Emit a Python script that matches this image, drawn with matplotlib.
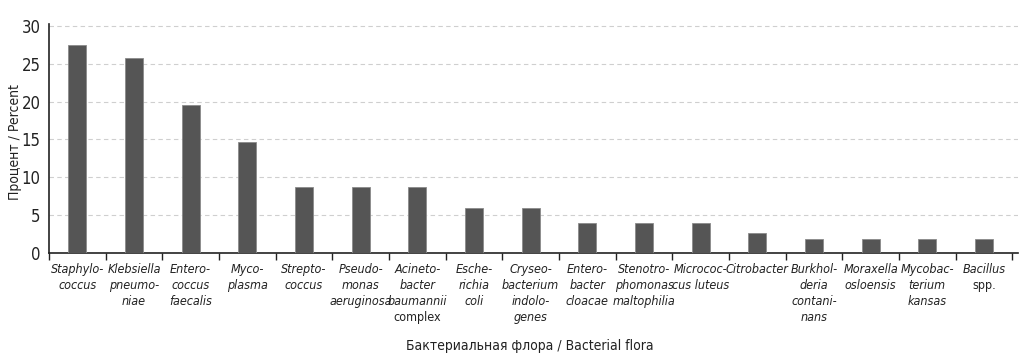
import matplotlib
matplotlib.use("Agg")
import matplotlib.pyplot as plt
from matplotlib import font_manager

# look for a narrow face, the reference uses a condensed font
base, stretch = "Roboto", "normal"
for f in font_manager.fontManager.ttflist:
    st = str(f.stretch)
    if "Narrow" in f.name or "Condensed" in f.name:
        base, stretch = f.name, "normal"
        break
    if st in ("condensed", "semi-condensed", "extra-condensed", "75", "87", "62"):
        base, stretch = f.name, st
        break
plt.rcParams["font.family"] = [base, "DejaVu Sans"]
plt.rcParams["font.stretch"] = stretch

labels = [
    "Staphylo-\ncoccus", "Klebsiella\npneumo-\nniae", "Entero-\ncoccus\nfaecalis",
    "Myco-\nplasma", "Strepto-\ncoccus", "Pseudo-\nmonas\naeruginosa",
    "Acineto-\nbacter\nbaumannii\ncomplex", "Esche-\nrichia\ncoli",
    "Cryseo-\nbacterium\nindolo-\ngenes", "Entero-\nbacter\ncloacae",
    "Stenotro-\nphomonas\nmaltophilia", "Micrococ-\ncus luteus", "Citrobacter",
    "Burkhol-\nderia\ncontani-\nnans", "Moraxella\nosloensis",
    "Mycobac-\nterium\nkansas", "Bacillus\nspp.",
]
values = [27.5, 25.8, 19.6, 14.6, 8.7, 8.7, 8.7, 6.0, 6.0, 4.0, 4.0, 4.0,
          2.7, 1.9, 1.9, 1.9, 1.9]
upright = {"complex", "spp."}  # words not set in italic

fig = plt.figure(figsize=(10.24, 3.57), dpi=100)
ax = fig.add_axes([49 / 1024, 1 - 253 / 357, 969 / 1024, 229 / 357])

x = list(range(len(values)))
ax.bar(x, values, width=0.32, color="#555555", edgecolor="#8a8a8a", linewidth=0.6, zorder=3)

ax.set_xlim(-0.5, 16.6)
ax.set_ylim(0, 30.25)
ax.set_yticks([0, 5, 10, 15, 20, 25, 30])
ax.yaxis.grid(True, linestyle=(0, (4, 3)), color="#cfcfcf", linewidth=0.8, zorder=0)
ax.tick_params(axis="y", length=0, labelsize=12, pad=6, colors="#222222")

ax.set_xticks([i - 0.5 for i in range(len(values) + 1)])
ax.set_xticklabels([])
ax.tick_params(axis="x", length=5, width=1, direction="out", colors="#222222")

for s in ["top", "right"]:
    ax.spines[s].set_visible(False)
for s in ["left", "bottom"]:
    ax.spines[s].set_linewidth(1.2)
    ax.spines[s].set_color("#222222")

fs = 9.0 if stretch != "normal" or base != "Roboto" else 8.4
for i, lab in enumerate(labels):
    for j, line in enumerate(lab.split("\n")):
        ax.annotate(line, xy=(i, 0), xycoords=("data", "axes fraction"),
                    xytext=(0, -7 - j * 11.5), textcoords="offset points",
                    ha="center", va="top", fontsize=fs, color="#222222",
                    style="normal" if line in upright else "italic")

fig.text(530 / 1024, 1 - 346 / 357, "Бактериальная флора / Bacterial flora",
         ha="center", va="center", fontsize=10, color="#222222")
fig.text(15 / 1024, 1 - 142 / 357, "Процент / Percent", rotation=90,
         ha="center", va="center", fontsize=10, color="#222222")

fig.savefig("out.png", dpi=100)
